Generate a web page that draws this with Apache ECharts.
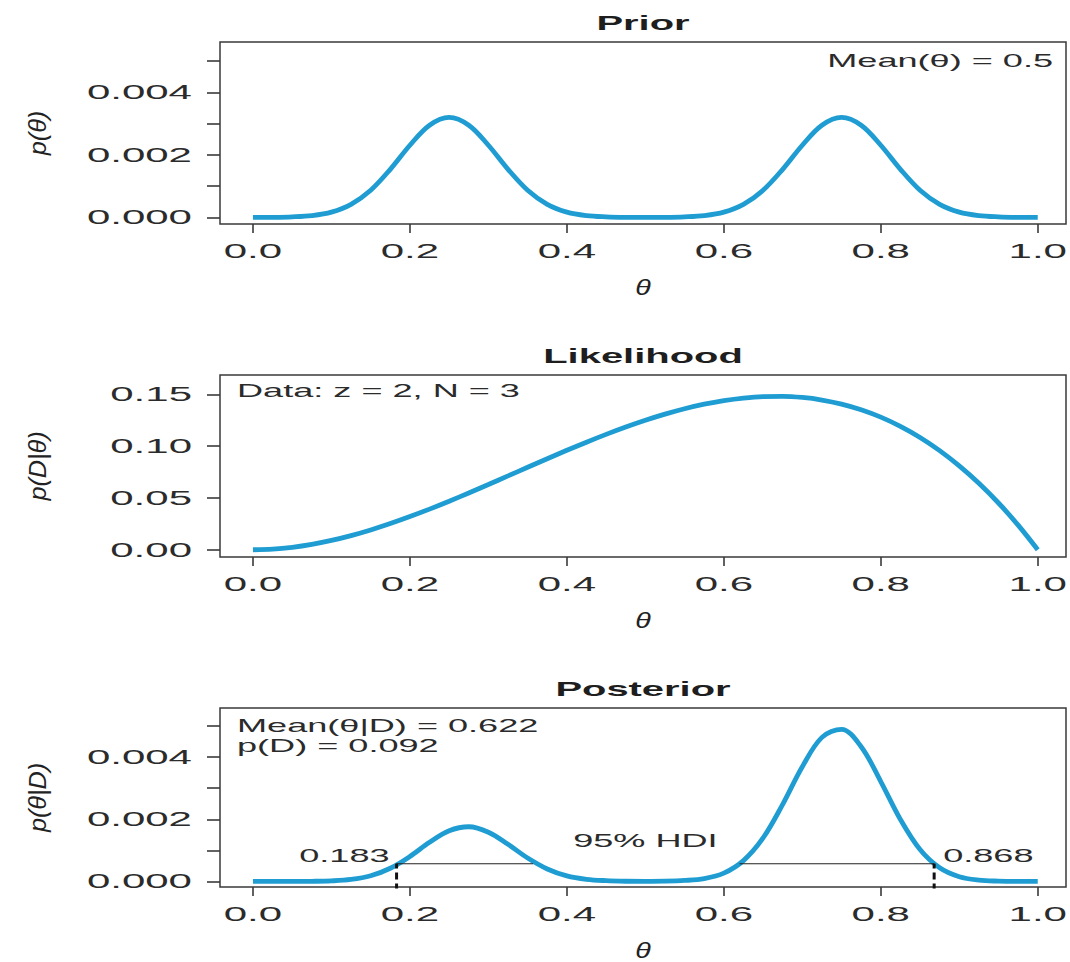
<!DOCTYPE html>
<html>
<head>
<meta charset="utf-8">
<script src="https://cdn.jsdelivr.net/npm/echarts@6/dist/echarts.min.js"></script>
<style>
html,body{margin:0;padding:0;background:#fff;overflow:hidden}
#main{width:1070px;height:962px}
</style>
</head>
<body>
<div id="main"></div>
<script>
// ---------------- data ----------------
const theta = [0,0.025,0.05,0.075,0.1,0.125,0.15,0.175,0.2,0.225,0.25,0.275,0.3,0.325,0.35,0.375,0.4,0.425,0.45,0.475,0.5,0.525,0.55,0.575,0.6,0.625,0.65,0.675,0.7,0.725,0.75,0.775,0.8,0.825,0.85,0.875,0.9,0.925,0.95,0.975,1];
const prior = [0,0.000004,0.00002,0.00006,0.00017,0.00042,0.00087,0.00154,0.00231,0.00295,0.0032,0.00295,0.00231,0.00154,0.00087,0.00042,0.00017,0.00006,0.00002,0.000004,0.000001,0.000004,0.00002,0.00006,0.00017,0.00042,0.00087,0.00154,0.00231,0.00295,0.0032,0.00295,0.00231,0.00154,0.00087,0.00042,0.00017,0.00006,0.00002,0.000004,0];
const likelihood = [0,0.00061,0.00238,0.0052,0.009,0.01367,0.01913,0.02527,0.032,0.03923,0.04688,0.05483,0.063,0.0713,0.07963,0.08789,0.096,0.10386,0.11138,0.11845,0.125,0.13092,0.13613,0.14052,0.144,0.14648,0.14788,0.14808,0.147,0.14455,0.14063,0.13514,0.128,0.11911,0.10838,0.0957,0.081,0.06417,0.04513,0.02377,0];
const posterior = [0,0,0,0.000003,0.000017,0.000062,0.000181,0.000423,0.000803,0.001258,0.00163,0.001758,0.001582,0.001193,0.000753,0.000401,0.000177,0.000068,0.000024,0.000005,0.000001,0.000006,0.00003,0.000092,0.000266,0.000669,0.001398,0.002479,0.003691,0.004635,0.004891,0.004333,0.003214,0.001994,0.001025,0.000437,0.00015,0.000042,0.00001,0.000001,0];

const xTicks = [0,0.2,0.4,0.6,0.8,1.0];
const densityTicks = [0,0.001,0.002,0.003,0.004,0.005];
const densityLabels = [0,0.002,0.004];
const likTicks = [0,0.05,0.10,0.15];

const panelTitles = ['Prior','Likelihood','Posterior'];
const yNames = ['p(θ)','p(D|θ)','p(θ|D)'];

const priorMean = 0.5, postMean = 0.622, evidence = 0.092, dataZ = 2, dataN = 3;
const hdiMass = 95;
const hdiHeight = 0.000566;
const hdiLimits = [0.183, 0.868];
const hdiSegments = [[0.183,0.357],[0.620,0.868]];
const hdiLabelTheta = [0.5];

// ---------------- styling ----------------
const FONT = "'Liberation Sans', Arial, Helvetica, sans-serif";
const CURVE = '#1f9dd2';
const INK = '#2b2b2b';
const BOX = '#3a3a3a';
const gridTops = [42, 375, 708];
const gridHeights = [182, 182, 181];
const yRanges = [[-0.00021, 0.005614], [-0.007, 0.1687], [-0.00018, 0.00558]];

const grids = gridTops.map((t, i) => ({
  left: 220, right: 4, top: t, height: gridHeights[i],
  show: true, borderColor: BOX, borderWidth: 1.5, backgroundColor: 'transparent'
}));

const xAxes = gridTops.map((t, i) => ({
  type: 'value', gridIndex: i, min: -0.042, max: 1.036,
  name: 'θ', nameLocation: 'middle', nameGap: 52,
  nameTextStyle: {fontSize: 22, fontStyle: 'italic', color: '#222', fontFamily: FONT},
  axisLine: {show: false, onZero: false},
  splitLine: {show: false},
  axisTick: {show: true, customValues: xTicks, length: 9, lineStyle: {color: BOX, width: 1.6}},
  axisLabel: {customValues: xTicks, formatter: v => v.toFixed(1), margin: 17, fontSize: 20, color: INK, fontFamily: FONT}
}));

const yTickSets = [densityTicks, likTicks, densityTicks];
const yLabelSets = [densityLabels, likTicks, densityLabels];
const yDigits = [3, 2, 3];
const yAxes = gridTops.map((t, i) => ({
  type: 'value', gridIndex: i, min: yRanges[i][0], max: yRanges[i][1],
  name: yNames[i], nameLocation: 'middle', nameRotate: 90, nameGap: 171,
  nameTextStyle: {fontSize: 24, fontStyle: 'italic', color: '#222', fontFamily: FONT},
  axisLine: {show: false, onZero: false},
  splitLine: {show: false},
  axisTick: {show: true, customValues: yTickSets[i], length: 13, lineStyle: {color: BOX, width: 1.6}},
  axisLabel: {customValues: yLabelSets[i], formatter: v => v.toFixed(yDigits[i]), margin: 28, fontSize: 20, color: INK, fontFamily: FONT}
}));

const curves = [prior, likelihood, posterior].map((arr, i) => ({
  type: 'line', xAxisIndex: i, yAxisIndex: i, silent: true,
  data: theta.map((t, k) => [t, arr[k]]),
  showSymbol: false, smooth: 0.35,
  lineStyle: {color: CURVE, width: 4.8}, z: 2
}));

const hdiLines = hdiSegments.map(seg => ({
  type: 'line', xAxisIndex: 2, yAxisIndex: 2, silent: true, showSymbol: false,
  data: seg.map(x => [x, hdiHeight]),
  lineStyle: {color: '#222', width: 1.1}, z: 3
}));

const hdiDashes = hdiLimits.map(x => ({
  type: 'line', xAxisIndex: 2, yAxisIndex: 2, silent: true, showSymbol: false,
  data: [[x, -0.001], [x, hdiHeight]],
  lineStyle: {color: '#111', width: 3, type: [7, 4]}, z: 4
}));

const labelStyle = {fontSize: 19, color: INK, opacity: 1, textBorderWidth: 0, fontFamily: FONT};
const hdiLimitLabels = hdiLimits.map((x, i) => ({
  type: 'scatter', xAxisIndex: 2, yAxisIndex: 2, silent: true,
  symbol: 'circle', symbolSize: 1, itemStyle: {color: '#222'},
  data: [[x, hdiHeight]],
  label: Object.assign({
    show: true, position: 'top', distance: 0,
    align: i === 0 ? 'right' : 'left', offset: [i === 0 ? -7 : 9, 2],
    formatter: p => p.value[0].toFixed(3)
  }, labelStyle), z: 5
}));
const hdiNameLabel = {
  type: 'scatter', xAxisIndex: 2, yAxisIndex: 2, silent: true,
  symbol: 'circle', symbolSize: 1, itemStyle: {color: 'rgba(255,255,255,0)'},
  data: hdiLabelTheta.map(x => [x, hdiHeight]),
  label: Object.assign({show: true, position: 'top', distance: 13, formatter: hdiMass + '% HDI'}, labelStyle), z: 5
};

const titles = panelTitles.map((txt, i) => ({
  text: txt, left: 643, top: gridTops[i] - 30, textAlign: 'center', padding: 0,
  textStyle: {fontSize: 21, fontWeight: 'bold', color: '#1e1e1e', fontFamily: FONT}
}));

function note(txt, x, y, align) {
  return {type: 'text', x: x, y: y, silent: true,
    style: {text: txt, align: align, verticalAlign: 'middle', fontSize: 19, fontFamily: FONT, fill: INK}};
}
const notes = [
  note('Mean(θ) = ' + priorMean, 1053, 60, 'right'),
  note('Data: z = ' + dataZ + ', N = ' + dataN, 237, 390, 'left'),
  note('Mean(θ|D) = ' + postMean.toFixed(3), 237, 725, 'left'),
  note('p(D) = ' + evidence.toFixed(3), 237, 745, 'left')
];

const option = {
  animation: false,
  backgroundColor: '#ffffff',
  title: titles,
  grid: grids,
  xAxis: xAxes,
  yAxis: yAxes,
  graphic: notes,
  series: curves.concat(hdiLines, hdiDashes, hdiLimitLabels, [hdiNameLabel])
};

const chart = echarts.init(document.getElementById('main'), null, {renderer: 'svg'});

// The reference uses a wide (extended) typeface: widen the glyphs to match.
function stretchTexts() {
  document.querySelectorAll('#main svg text').forEach(t => {
    if (t.getAttribute('data-w')) return;
    const fs = parseFloat(getComputedStyle(t).fontSize);
    let s = null;
    if (fs === 20) s = 2.1;
    else if (fs === 19) s = 1.9;
    else if (fs === 21) s = 1.9;
    else if (fs === 22) s = 1.3;
    else if (fs === 24) s = 1.05;
    if (!s) return;
    const len = t.getComputedTextLength();
    if (!len) return;
    t.setAttribute('textLength', (len * s).toFixed(2));
    t.setAttribute('lengthAdjust', 'spacingAndGlyphs');
    t.setAttribute('data-w', '1');
  });
}
chart.on('finished', stretchTexts);
chart.setOption(option);
stretchTexts();
setTimeout(stretchTexts, 50);
</script>
</body>
</html>
